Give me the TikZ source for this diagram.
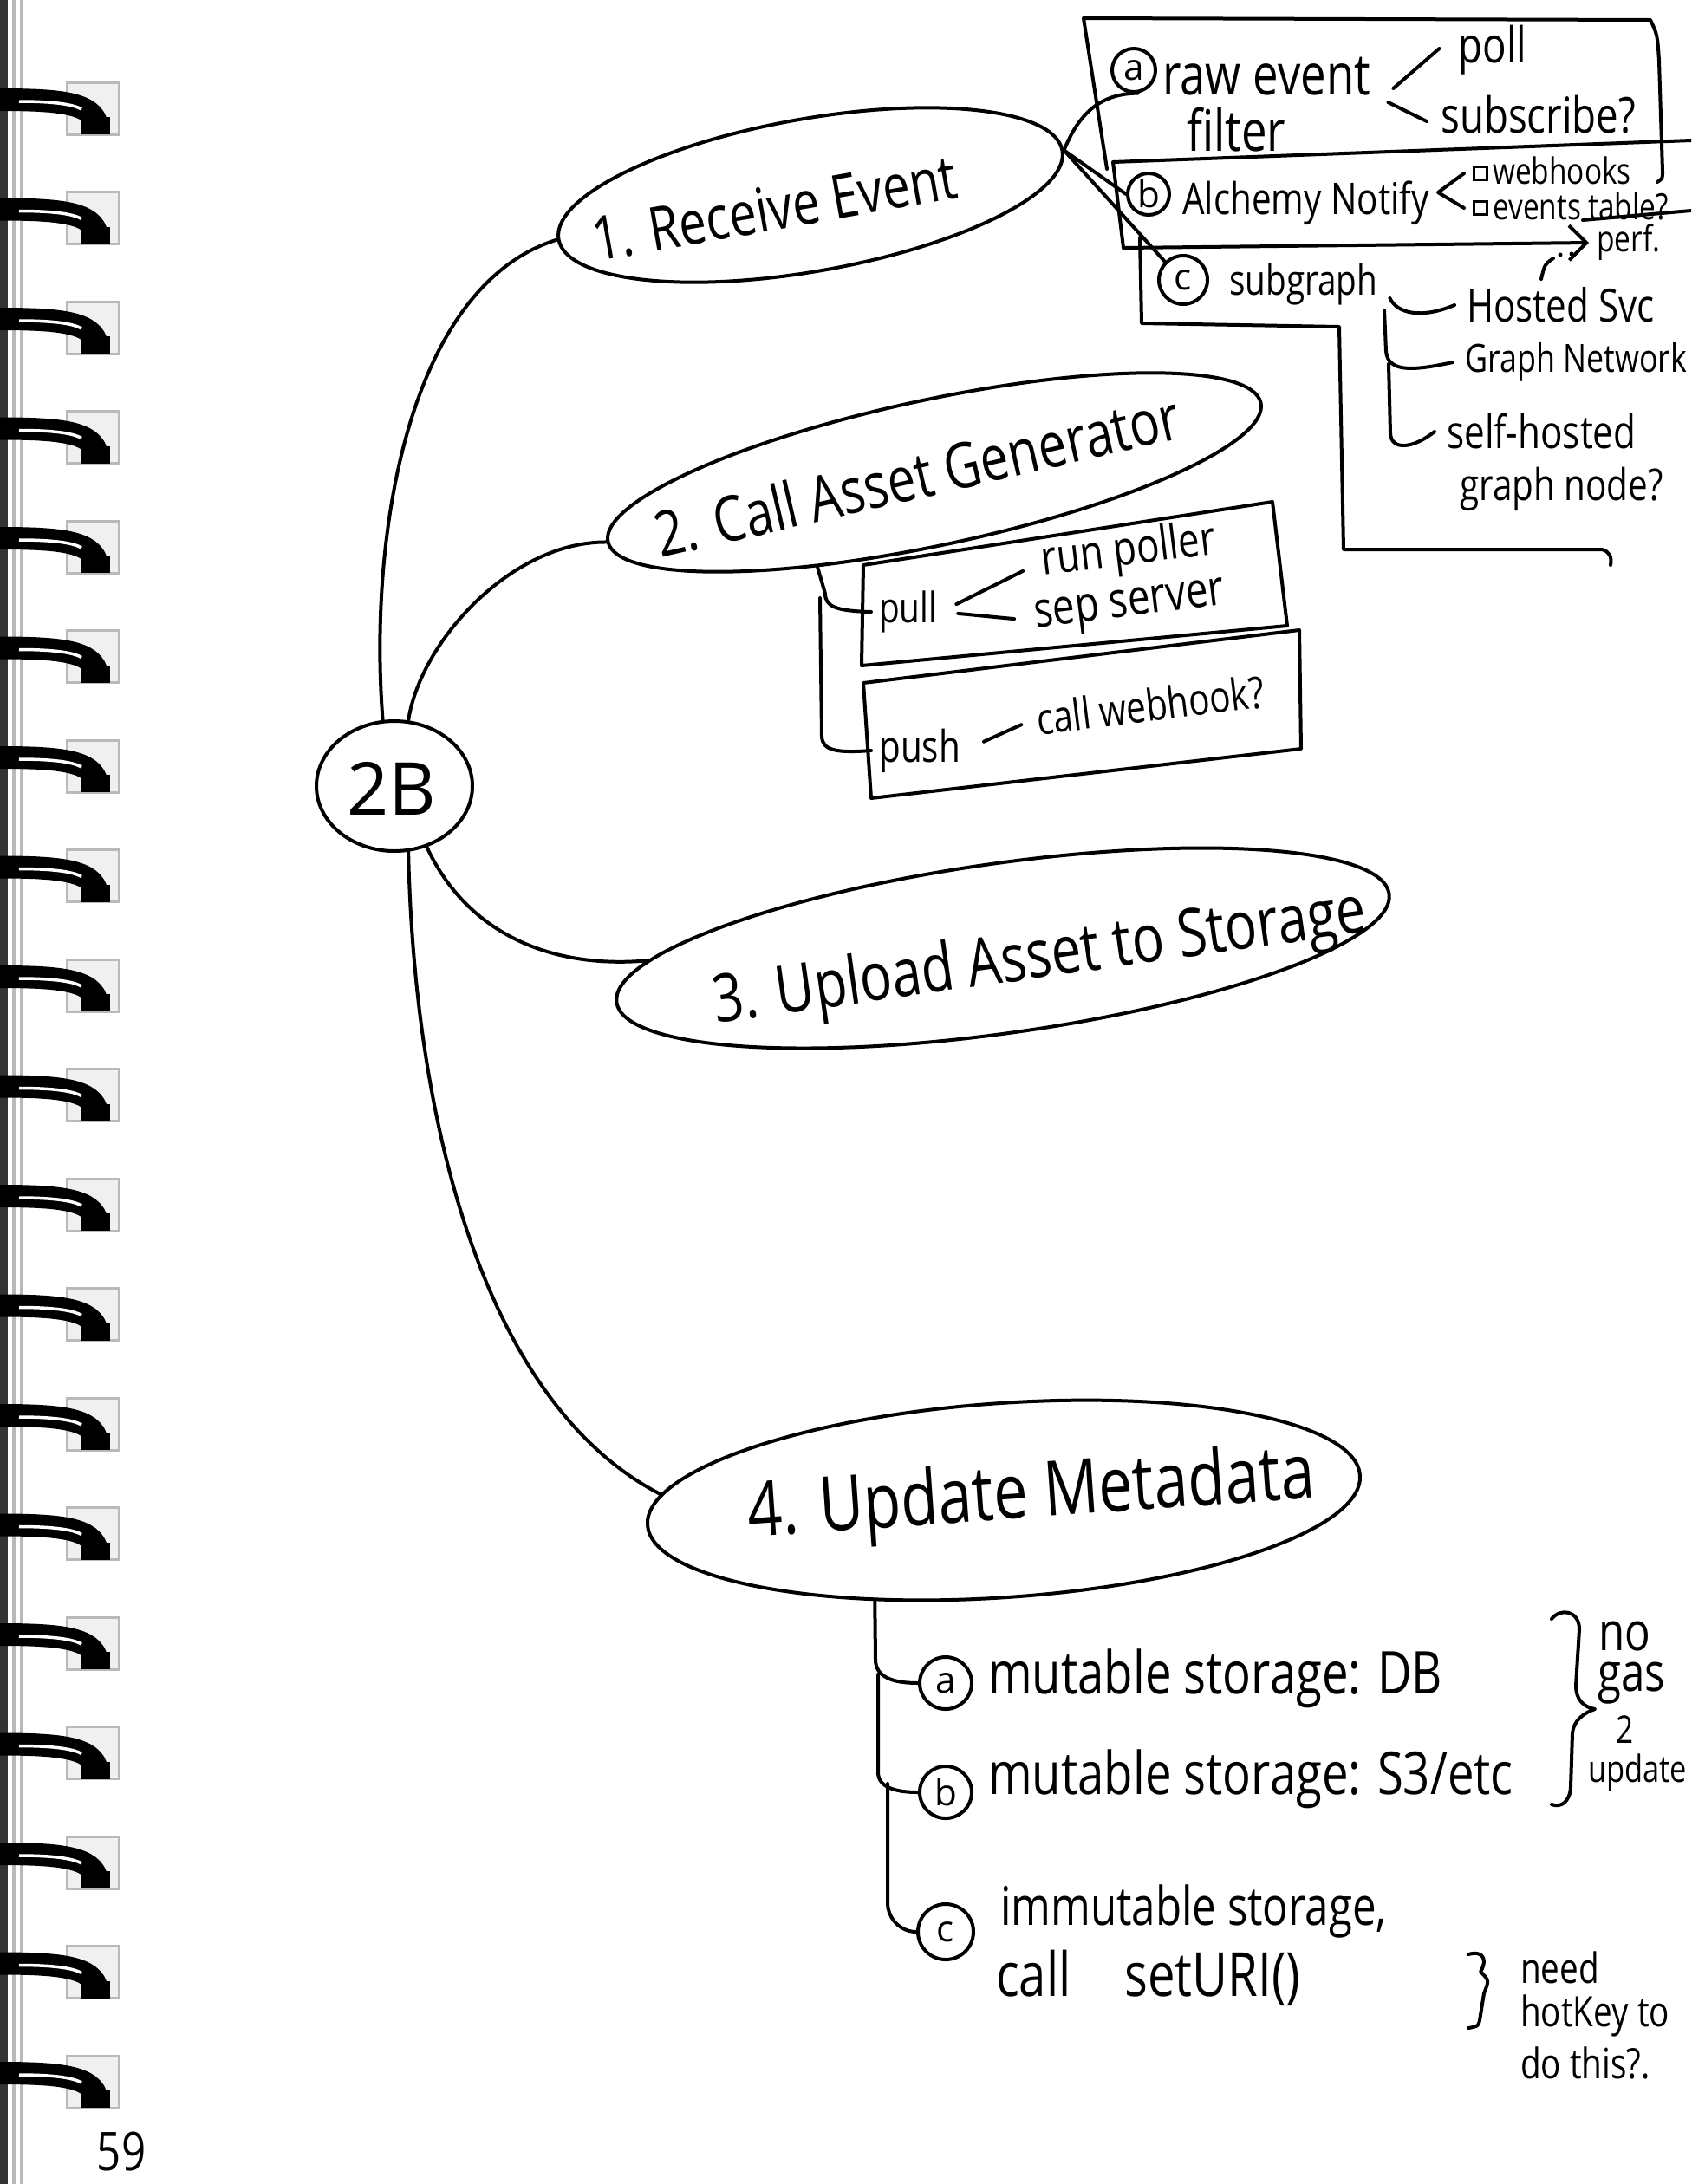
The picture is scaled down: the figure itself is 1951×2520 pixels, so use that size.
\documentclass[tikz,border=0pt]{standalone}
\usepackage{fontspec}
\setmainfont{Open Sans}
\usepackage{graphicx}
\usetikzlibrary{shapes.geometric,arrows.meta,calc}
\newcommand\hwt[1]{\scalebox{1}[1.25]{#1}}
\begin{document}
\begin{tikzpicture}[x=0.1mm,y=-0.1mm,
  pen/.style={line width=0.4mm, line cap=round, line join=round},
  bubble/.style={pen, draw, ellipse, inner sep=0pt},
  fs/.style={font=\fontsize{#1}{#1}\selectfont},
  txt/.style={inner sep=1pt},
  tag/.style={pen, draw, circle, inner sep=0pt, minimum size=#1, font=\fontsize{12}{12}\selectfont},
  chk/.style={draw, line width=0.3mm, minimum size=1.5mm, inner sep=0pt},
]
\useasboundingbox (0,0) rectangle (1951,2520);
\fill[white] (0,0) rectangle (1951,2520);
\clip (0,0) rectangle (1951,2520);

% ---- spiral binding ----
\fill[black!80] (0,0) rectangle (9,2520);
\draw[gray!55, line width=0.5mm] (16,0) -- (16,2520);
\draw[gray!55, line width=0.4mm] (25,0) -- (25,2520);
\foreach \i in {0,...,18}{
  \pgfmathsetmacro\yy{95+126.5*\i}
  \begin{scope}[shift={(0,\yy)}]
    \fill[gray!12] (77,0) rectangle (137,60);
    \draw[gray!55, line width=0.3mm] (77,0) rectangle (137,60);
    \draw[line width=2.6mm] (0,20) .. controls (70,20) and (108,24) .. (112,50);
    \fill[black] (93,40) rectangle (127,60);
    \draw[white, line width=0.35mm] (22,22) .. controls (60,22) and (84,25) .. (94,31);
  \end{scope}
}

% ---- main bubbles ----
\node[bubble, minimum width=18mm, minimum height=15mm] (hub) at (455,907) {};
\node[txt, fs=24] (t0) at (452,910) {2B};

\node[bubble, minimum width=59mm, minimum height=17.6mm, rotate=10] (n1) at (935,225) {};
\node[txt, fs=16, rotate=10] (t1) at (893,240) {\hwt{1. Receive Event}};

\node[bubble, minimum width=77mm, minimum height=16.8mm, rotate=12] (n2) at (1078,545) {};
\node[txt, fs=16.5, rotate=13] (t2) at (1058,548) {\hwt{2. Call Asset Generator}};

\node[bubble, minimum width=90mm, minimum height=19.6mm, rotate=8] (n3) at (1157,1094) {};
\node[txt, fs=17.5, rotate=8] (t3) at (1200,1108) {\hwt{3. Upload Asset to Storage}};

\node[bubble, minimum width=82.4mm, minimum height=22.4mm, rotate=4] (n4) at (1158,1731) {};
\node[txt, fs=20, rotate=4] (t4) at (1190,1728) {\hwt{4. Update Metadata}};

% hub connectors
\draw[pen] (hub.100) .. controls (425,620) and (470,330) .. (n1.west);
\draw[pen] (hub.78) .. controls (485,740) and (590,625) .. (n2.west);
\draw[pen] (hub.-62) .. controls (540,1080) and (640,1118) .. (n3.174);
\draw[pen] (hub.-78) .. controls (478,1300) and (560,1620) .. (n4.175);

% ---- 1. receive event: options ----
\node[tag=5mm] (ca) at (1308,81) {a};
\node[tag=4.8mm] (cb) at (1325,224) {b};
\node[tag=5.6mm] (cc) at (1365,323) {c};
\draw[pen] (n1.east) .. controls (1245,130) and (1270,108) .. (ca.-80);
\draw[pen] (n1.east) -- (cb.west);
\draw[pen] (n1.east) -- (cc.north west);

% frame around option a
\draw[pen] (1277,195) -- (1250,21) -- (1904,23) .. controls (1912,40) .. (1914,70) -- (1918,198) .. controls (1918,206) .. (1912,210);
\node[txt, fs=15, anchor=west] (re) at (1337,88) {\hwt{raw event}};
\node[txt, fs=15, anchor=west] (fi) at (1365,150) {\hwt{filter}};
\node[txt, fs=13] (po) at (1722,58) {\hwt{poll}};
\node[txt, fs=13, anchor=west] (su) at (1658,132) {\hwt{subscribe?}};
\draw[pen] ([shift={(22,14)}]re.east) -- ([shift={(-18,-2)}]po.west);
\draw[pen] ([shift={(16,30)}]re.east) -- ([shift={(-12,8)}]su.west);

% frame around option b
\draw[pen] (1951,162) -- (1284,187) -- (1296,286);
\node[txt, fs=11.5, anchor=west] (an) at (1360,234) {\hwt{Alchemy Notify}};
\node[chk] (bx1) at (1708,200) {};
\node[txt, fs=9.5, anchor=west] (wh) at (1718,197) {\hwt{webhooks}};
\node[chk] (bx2) at (1708,240) {};
\node[txt, fs=9.5, anchor=west] (et) at (1718,238) {\hwt{events table?}};
\draw[pen] ([xshift=-1mm]bx1.west) -- ++(-30,22) -- ([xshift=-1mm]bx2.west);
\node[txt, fs=9.5, anchor=west] (pf) at (1838,280) {\hwt{perf.}};
\draw[pen, -{Straight Barb[length=2mm]}] (1296,286) -- ([xshift=-0.5mm]pf.west);
\draw[pen] (1826,254) -- (1951,243);
\draw[pen] (1778,322) .. controls (1782,305) .. (1792,298);
\fill (1800,294) circle[radius=0.25mm];
\fill (1813,293) circle[radius=0.25mm];

% frame around option c
\draw[pen] (1315,274) -- (1317,373) -- (1545,377) -- (1550,634) -- (1848,634) .. controls (1856,636) and (1860,642) .. (1858,652);
\node[txt, fs=11, anchor=west] (sg) at (1414,328) {\hwt{subgraph}};
\node[txt, fs=12, anchor=west] (hs) at (1688,352) {\hwt{Hosted Svc}};
\node[txt, fs=10.2, anchor=west] (gn) at (1686,418) {\hwt{Graph Network}};
\node[txt, fs=12, anchor=west] (sh) at (1665,498) {\hwt{self-hosted}};
\node[txt, fs=11.5, anchor=west] (gnd) at (1680,564) {\hwt{graph node?}};
\draw[pen] ([shift={(10,16)}]sg.east) .. controls (1612,362) and (1640,368) .. ([xshift=-1mm]hs.west);
\coordinate (sgt) at (1597,358);
\draw[pen] (sgt) -- (1599,405) .. controls (1601,430) and (1630,428) .. ([xshift=-1mm]gn.west);
\coordinate (sgu) at (1602,420);
\draw[pen] (sgu) -- (1604,500) .. controls (1605,520) and (1630,518) .. ([xshift=-1mm]sh.west);

% ---- 2. call asset generator: pull / push ----
\draw[pen] (996,652) -- (1468,579) -- (1485,722) -- (994,768) -- cycle;
\draw[pen] (996,788) -- (1499,727) -- (1501,864) -- (1005,921) -- cycle;
\node[txt, fs=11, anchor=west] (pl) at (1010,706) {\hwt{pull}};
\node[txt, fs=12.5, anchor=west, rotate=7] (rp) at (1198,650) {\hwt{run poller}};
\node[txt, fs=13, anchor=west, rotate=7] (ss) at (1190,716) {\hwt{sep server}};
\node[txt, fs=11.5, anchor=west] (ph) at (1010,866) {\hwt{push}};
\node[txt, fs=11.5, anchor=west, rotate=7] (cw) at (1192,830) {\hwt{call webhook?}};
\draw[pen, shorten <=2mm, shorten >=2mm] (pl.east) -- (rp.west);
\draw[pen, shorten <=2mm, shorten >=2mm] (pl.east) -- (ss.west);
\draw[pen, shorten <=2.5mm, shorten >=1.5mm] (ph.east) -- (cw.west);
\draw[pen] (n2.207) -- (952,685) .. controls (952,700) and (965,705) .. ([xshift=-0.5mm]pl.west);
\coordinate (pb) at (946,690);
\draw[pen] (pb) -- (948,850) .. controls (949,866) and (965,869) .. ([xshift=-0.5mm]ph.west);

% ---- 4. update metadata: storage choices ----
\node[tag=6mm] (la) at (1091,1942) {a};
\node[tag=6mm] (lb) at (1091,2068) {b};
\node[tag=6.4mm] (lc) at (1091,2229) {c};
\draw[pen] (n4.214) -- (1010,1915) .. controls (1010,1935) and (1030,1942) .. (la.west);
\coordinate (tb) at (1013,1932);
\draw[pen] (tb) -- (1013,2045) .. controls (1013,2063) and (1035,2068) .. (lb.west);
\coordinate (tc) at (1024,2058);
\draw[pen] (tc) -- (1024,2195) .. controls (1024,2215) and (1040,2229) .. (lc.west);
\node[txt, fs=15.5, anchor=west] (ma) at (1136,1937) {\hwt{mutable storage: DB}};
\node[txt, fs=15.5, anchor=west] (mb) at (1136,2053) {\hwt{mutable storage: S3/etc}};
\node[txt, fs=14, anchor=west] (mc) at (1150,2205) {\hwt{immutable storage,}};
\node[txt, fs=16, anchor=west] (md) at (1145,2282) {\hwt{call\hspace{1.1em}setURI()}};

\draw[pen] (1790,1868) .. controls (1800,1855) and (1822,1858) .. (1822,1880) -- (1818,1945) .. controls (1818,1962) and (1828,1970) .. (1840,1972) .. controls (1828,1976) and (1815,1985) .. (1814,2000) -- (1812,2062) .. controls (1811,2080) and (1800,2086) .. (1790,2082);
\node[txt, fs=14] (no) at (1874,1888) {\hwt{no}};
\node[txt, fs=14] (gas) at (1882,1942) {\hwt{gas}};
\node[txt, fs=10] (two) at (1875,1996) {\hwt{2}};
\node[txt, fs=9.8, anchor=west] (upd) at (1828,2045) {\hwt{update}};

\draw[pen] (1694,2255) .. controls (1712,2250) and (1716,2262) .. (1708,2275) .. controls (1718,2285) .. (1712,2300) -- (1708,2325) .. controls (1706,2338) .. (1694,2340);
\node[txt, fs=11, anchor=west] (nd) at (1750,2270) {\hwt{need}};
\node[txt, fs=11, anchor=west] (hk) at (1750,2326) {\hwt{hotKey to}};
\node[txt, fs=11, anchor=west] (dt) at (1750,2380) {\hwt{do this?.}};

% page number
\node[txt, fs=14] (pg) at (140,2482) {\hwt{59}};
\end{tikzpicture}
\end{document}
